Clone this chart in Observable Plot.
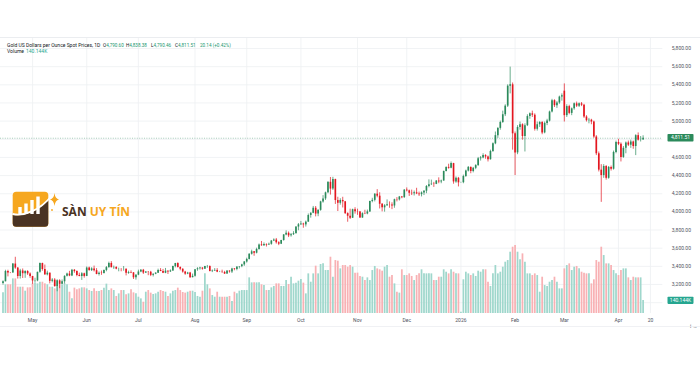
<!DOCTYPE html>
<html>
<head>
<meta charset="utf-8">
<script src="https://cdn.jsdelivr.net/npm/d3@7"></script>
<script src="https://cdn.jsdelivr.net/npm/@observablehq/plot@0.6"></script>
<style>
  html, body { margin: 0; padding: 0; background: #ffffff; }
  #chart { position: relative; width: 700px; height: 365px; overflow: hidden; background: #fff; }
  #chart > svg { position: absolute; left: 0; top: 0; }
</style>
</head>
<body>
<div id="chart"></div>
<script>
// ---------------- DATA ----------------
const startDate = "2025-04-15";
const holidays = ["2025-12-25"];

const tickDates = ["2025-05-01","2025-06-02","2025-07-01","2025-08-01","2025-09-01","2025-10-01",
  "2025-11-03","2025-12-01","2026-01-01","2026-02-02","2026-03-02","2026-04-01","2026-04-20"];
const tickLabels = ["May","Jun","Jul","Aug","Sep","Oct","Nov","Dec","2026","Feb","Mar","Apr","20"];

const priceTicks = [3000,3200,3400,3600,3800,4000,4200,4400,4600,4800,5000,5200,5400,5600,5800];

const closes = [
 3230,3343,3327,3326,3425,3381,3288,3349,3319,3343,
 3317,3288,3239,3240,3334,3431,3365,3306,3325,3235,
 3249,3177,3240,3202,3230,3290,3315,3294,3357,3342,
 3300,3288,3318,3289,3381,3353,3372,3352,3310,3325,
 3322,3355,3386,3432,3385,3388,3369,3369,3368,3368,
 3323,3332,3328,3274,3303,3338,3357,3326,3337,3335,
 3301,3313,3325,3355,3343,3324,3347,3339,3350,3397,
 3431,3387,3368,3337,3314,3326,3275,3290,3363,3373,
 3381,3369,3397,3398,3342,3348,3355,3336,3336,3332,
 3315,3348,3339,3371,3365,3393,3397,3416,3448,3476,
 3533,3560,3545,3586,3636,3627,3640,3634,3643,3679,
 3690,3660,3644,3685,3746,3764,3736,3749,3760,3833,
 3858,3866,3857,3887,3960,3985,4040,3976,4017,4110,
 4143,4210,4326,4251,4356,4125,4095,4126,4111,3981,
 3952,3930,4024,4002,4000,3932,3980,3977,4000,4115,
 4127,4195,4173,4084,4045,4067,4078,4077,4065,4134,
 4132,4164,4156,4240,4232,4205,4200,4210,4198,4190,
 4209,4228,4280,4300,4305,4303,4340,4330,4340,4445,
 4490,4480,4532,4330,4370,4320,4322,4390,4450,4490,
 4445,4480,4510,4585,4595,4620,4605,4575,4665,4750,
 4840,4920,4985,5070,5165,5385,5400,4860,4650,4930,
 4960,4830,4950,5050,5080,5065,4910,4960,4985,4870,
 4975,5000,5100,5225,5170,5200,5265,5280,5060,5160,
 5085,5135,5190,5165,5190,5175,5045,5005,5010,4990,
 4825,4640,4460,4400,4500,4370,4490,4470,4655,4765,
 4745,4600,4700,4760,4735,4770,4720,4840,4790,4791.37,
 4811.51];

const opens = [
 3210,3230,3343,3327,3326,3425,3381,3288,3349,3319,
 3343,3317,3288,3239,3240,3334,3431,3365,3306,3325,
 3235,3249,3177,3240,3202,3230,3290,3315,3294,3357,
 3342,3300,3288,3318,3289,3381,3353,3372,3352,3310,
 3325,3322,3355,3386,3432,3385,3388,3369,3369,3368,
 3368,3323,3332,3328,3274,3303,3338,3357,3326,3337,
 3335,3301,3313,3325,3355,3343,3324,3347,3339,3350,
 3397,3431,3387,3368,3337,3314,3326,3275,3290,3363,
 3373,3381,3369,3397,3398,3342,3348,3355,3336,3336,
 3332,3315,3348,3339,3371,3365,3393,3397,3416,3448,
 3476,3533,3560,3545,3586,3636,3627,3640,3634,3643,
 3679,3690,3660,3644,3685,3746,3764,3736,3749,3760,
 3833,3858,3866,3857,3887,3960,3985,4040,3976,4017,
 4110,4143,4210,4326,4251,4356,4125,4095,4126,4111,
 3981,3952,3930,4024,4002,4000,3932,3980,3977,4000,
 4115,4127,4195,4173,4084,4045,4067,4078,4077,4065,
 4134,4132,4164,4156,4240,4232,4205,4200,4210,4198,
 4190,4209,4228,4280,4300,4305,4303,4340,4330,4340,
 4445,4490,4480,4532,4330,4370,4320,4322,4390,4450,
 4490,4445,4480,4510,4585,4595,4620,4605,4575,4665,
 4750,4840,4920,4985,5070,5165,5385,5400,4860,4650,
 4930,4960,4830,4950,5050,5080,5065,4910,4960,4985,
 4870,4975,5000,5100,5225,5170,5200,5265,5330,5060,
 5160,5085,5135,5190,5165,5190,5175,5045,5005,5010,
 4990,4825,4640,4460,4400,4500,4370,4490,4470,4655,
 4765,4745,4600,4700,4760,4735,4770,4720,4840,4790,
 4790.60];

const highs = [
 3240,3357,3357,3330,3430,3500,3386,3367,3371,3352,
 3352,3328,3290,3269,3336,3437,3435,3414,3347,3326,
 3265,3265,3252,3252,3250,3296,3325,3345,3366,3365,
 3350,3325,3330,3325,3393,3392,3385,3403,3375,3338,
 3349,3360,3398,3446,3452,3403,3396,3380,3375,3398,
 3372,3347,3350,3331,3309,3358,3365,3366,3343,3343,
 3345,3317,3330,3369,3375,3366,3377,3352,3361,3402,
 3433,3439,3394,3373,3345,3334,3334,3315,3363,3385,
 3390,3385,3400,3410,3405,3360,3375,3375,3345,3358,
 3345,3350,3351,3379,3376,3393,3398,3423,3453,3490,
 3540,3578,3563,3600,3646,3674,3658,3648,3656,3685,
 3703,3707,3671,3687,3750,3791,3779,3762,3782,3835,
 3872,3895,3875,3899,3977,3990,4060,4059,4022,4117,
 4179,4218,4330,4379,4381,4360,4161,4145,4161,4115,
 3990,4030,4030,4046,4030,4005,3990,4018,4020,4118,
 4150,4200,4245,4211,4092,4080,4132,4110,4100,4140,
 4157,4170,4170,4245,4264,4240,4240,4230,4260,4218,
 4220,4235,4290,4353,4350,4325,4345,4375,4350,4450,
 4497,4525,4550,4535,4385,4380,4326,4405,4460,4500,
 4495,4490,4520,4600,4610,4640,4630,4615,4680,4760,
 4880,4930,5000,5110,5180,5400,5595,5420,4880,4950,
 4990,4970,4970,5070,5090,5110,5080,4990,4995,4995,
 4990,5020,5110,5240,5235,5215,5275,5300,5410,5180,
 5175,5145,5200,5210,5200,5205,5185,5060,5030,5020,
 5000,4840,4660,4520,4520,4510,4500,4505,4670,4780,
 4800,4760,4720,4770,4780,4790,4780,4850,4870,4830,
 4838.38];

const lows = [
 3193,3229,3284,3320,3325,3367,3260,3260,3266,3268,
 3300,3268,3202,3222,3230,3324,3346,3306,3295,3207,
 3218,3171,3120,3154,3200,3205,3283,3286,3287,3324,
 3285,3285,3245,3270,3287,3345,3343,3338,3307,3293,
 3301,3315,3340,3377,3383,3366,3362,3340,3340,3347,
 3295,3312,3320,3255,3248,3297,3330,3311,3322,3297,
 3287,3283,3308,3322,3341,3320,3319,3310,3332,3345,
 3383,3381,3351,3325,3301,3308,3268,3273,3281,3346,
 3358,3358,3368,3378,3341,3331,3346,3330,3331,3322,
 3311,3311,3325,3321,3351,3351,3371,3385,3400,3436,
 3470,3524,3511,3537,3578,3621,3620,3613,3630,3633,
 3673,3645,3628,3640,3677,3737,3717,3722,3740,3758,
 3792,3850,3820,3833,3885,3931,3980,3945,3947,4007,
 4096,4126,4200,4185,4236,4082,4004,4074,4043,3971,
 3886,3916,3928,3975,3962,3928,3930,3970,3968,3995,
 4100,4110,4155,4032,4000,3997,4060,4040,4025,4040,
 4110,4120,4145,4150,4220,4170,4180,4175,4190,4170,
 4165,4180,4200,4265,4290,4270,4300,4310,4310,4338,
 4440,4470,4475,4305,4315,4275,4316,4310,4380,4440,
 4420,4430,4465,4500,4560,4585,4580,4550,4570,4655,
 4740,4810,4900,4975,5050,5150,5300,4680,4400,4630,
 4900,4790,4660,4940,5020,5040,4890,4890,4930,4850,
 4860,4950,4990,5090,5150,5140,5185,5220,4990,5040,
 5070,5060,5120,5150,5150,5160,5030,4990,4970,4960,
 4810,4620,4440,4105,4370,4350,4360,4450,4460,4640,
 4730,4550,4590,4640,4720,4700,4690,4620,4780,4770,
 4790.46];

// volume, thousands
const volumes = [
 223,310,310,310,374,374,284,284,284,241,
 277,277,320,331,320,338,338,320,310,284,
 284,266,292,310,310,320,310,230,158,274,
 256,266,277,277,266,248,238,266,238,238,
 248,274,317,248,266,248,184,212,248,248,
 202,212,256,223,212,176,158,122,230,248,
 220,205,212,230,248,238,230,184,212,241,
 248,274,248,227,220,230,241,241,227,184,
 176,241,428,310,266,194,176,230,176,176,
 176,176,184,130,230,212,241,248,248,248,
 385,331,331,331,331,310,302,248,248,277,
 292,320,320,292,292,356,313,392,320,328,
 349,367,328,212,428,338,428,511,428,529,
 536,464,464,608,392,572,565,482,518,518,
 500,518,500,436,436,400,392,356,385,356,
 464,508,482,472,457,500,518,392,410,320,
 230,220,472,410,410,428,400,356,410,428,
 472,428,428,428,428,356,356,392,392,472,
 446,428,472,446,428,428,14,364,446,428,
 410,428,400,457,446,472,472,338,292,428,
 518,428,446,500,554,572,662,716,734,662,
 580,644,554,428,428,410,428,410,230,392,
 302,292,338,356,392,338,266,266,482,518,
 536,464,500,508,482,446,436,428,428,320,
 364,572,554,716,626,536,536,518,464,428,
 410,464,482,482,385,356,392,385,385,385,
 140.144];

// ---------------- trading-day calendar ----------------
function isoDay(d) { return d.toISOString().slice(0, 10); }
const calendar = new Map();
{
  const [y, m, dd] = startDate.split("-").map(Number);
  let d = new Date(Date.UTC(y, m - 1, dd));
  let idx = 0;
  const last = tickDates[tickDates.length - 1];
  while (isoDay(d) <= last) {
    const wd = d.getUTCDay();
    const s = isoDay(d);
    if (wd !== 0 && wd !== 6 && !holidays.includes(s)) calendar.set(s, idx++);
    d = new Date(d.getTime() + 86400000);
  }
}
const tickIdx = tickDates.map(s => calendar.get(s));
const labelOf = new Map(tickIdx.map((t, k) => [t, tickLabels[k]]));

const bars = closes.map((c, i) => ({
  i, open: opens[i], high: highs[i], low: lows[i], close: c, volume: volumes[i], up: c >= opens[i]
}));
const lastBar = bars[bars.length - 1];
const prevClose = closes[closes.length - 2];

// ---------------- styling ----------------
const UP = "#2b8a5b", DOWN = "#e3161f";
const VUP = "#9fd7cc", VDOWN = "#f8b1b4";
const FONT = "Roboto, 'Liberation Sans', Arial, sans-serif";
const X = {domain: [-1, 268], range: [0.04, 662.3]};
const PRICE_Y = {domain: [2880.5, 5910.2], range: [313, 38]};
const VOL_Y = {domain: [0, 2970], range: [313, 38]};
const common = {
  width: 700, height: 330, marginLeft: 0, marginRight: 37.7, marginTop: 38, marginBottom: 17,
  style: {background: "transparent", fontFamily: FONT, color: "#50535e", overflow: "visible"}
};

// price-scale labels hidden behind the last-value badges (as the price scale does)
const pyScale = Plot.scale({y: PRICE_Y});
const vyScale = Plot.scale({y: VOL_Y});
const badgeYs = [pyScale.apply(lastBar.close), vyScale.apply(lastBar.volume)];
const labelTicks = priceTicks.filter(t => badgeYs.every(b => Math.abs(pyScale.apply(t) - b) > 7.5));

const root = document.getElementById("chart");

// grid layer
const gridPlot = Plot.plot({
  ...common,
  x: {...X, axis: null}, y: {...PRICE_Y, axis: null},
  marks: [
    Plot.gridY(priceTicks, {stroke: "#eef0f3", strokeOpacity: 1, strokeWidth: 0.8}),
    Plot.gridX(tickIdx, {stroke: "#eef0f3", strokeOpacity: 1, strokeWidth: 0.8})
  ]
});
root.appendChild(gridPlot);

// volume layer
const volPlot = Plot.plot({
  ...common,
  x: {...X, axis: null}, y: {...VOL_Y, axis: null},
  marks: [
    Plot.ruleX(bars, {x: "i", y1: 0, y2: "volume", stroke: d => d.up ? VUP : VDOWN, strokeWidth: 1.75})
  ]
});
root.appendChild(volPlot);

// candle layer + axes
const candlePlot = Plot.plot({
  ...common,
  x: X, y: PRICE_Y,
  marks: [
    Plot.ruleY([lastBar.close], {stroke: UP, strokeOpacity: 0.6, strokeWidth: 0.7, strokeDasharray: "1,1.4"}),
    Plot.ruleX(bars, {x: "i", y1: "low", y2: "high", stroke: d => d.up ? UP : DOWN, strokeWidth: 0.7}),
    Plot.ruleX(bars, {x: "i", y1: "open", y2: "close", stroke: d => d.up ? UP : DOWN, strokeWidth: 1.65}),
    Plot.axisY(labelTicks, {anchor: "right", tickSize: 0, tickPadding: 9, fontSize: 5,
      tickFormat: d3.format(",.2f")}),
    Plot.axisX(tickIdx, {anchor: "bottom", tickSize: 0, tickPadding: 4.5, fontSize: 5,
      tickFormat: d => labelOf.get(d)})
  ]
});
root.appendChild(candlePlot);

// ---------------- overlay: labels, legend, watermark ----------------
const ov = d3.select(root).append("svg")
  .attr("width", 700).attr("height", 365)
  .style("font-family", FONT);

// borders
ov.append("line").attr("x1", 0).attr("x2", 700).attr("y1", 37.5).attr("y2", 37.5)
  .attr("stroke", "#e6e8ec").attr("stroke-width", 0.8);
ov.append("line").attr("x1", 0).attr("x2", 700).attr("y1", 326.5).attr("y2", 326.5)
  .attr("stroke", "#eceef1").attr("stroke-width", 0.8);

// last price label
const fmt2 = d3.format(",.2f");
const yPrice = candlePlot.scale("y").apply(lastBar.close);
ov.append("rect").attr("x", 667.5).attr("y", yPrice - 3.8).attr("width", 26).attr("height", 7.6)
  .attr("rx", 0.8).attr("fill", UP);
ov.append("text").attr("x", 680.5).attr("y", yPrice).attr("dy", "0.35em")
  .attr("text-anchor", "middle").attr("fill", "#fff").attr("font-size", 5).text(fmt2(lastBar.close));

// last volume label
const yVol = volPlot.scale("y").apply(lastBar.volume);
ov.append("rect").attr("x", 667.5).attr("y", yVol - 3.3).attr("width", 26).attr("height", 7.2)
  .attr("rx", 0.8).attr("fill", "#26a690");
ov.append("text").attr("x", 680.5).attr("y", yVol + 0.3).attr("dy", "0.35em")
  .attr("text-anchor", "middle").attr("fill", "#fff").attr("font-size", 5)
  .text(lastBar.volume.toFixed(3) + "K");

// legend
const LG = "#22976f";
const change = lastBar.close - prevClose;
const pct = change / prevClose * 100;
const l1 = ov.append("text").attr("x", 7).attr("y", 45).attr("dy", "0.35em").attr("font-size", 5).attr("fill", "#131722");
l1.append("tspan").text("Gold US Dollars per Ounce Spot Prices, 1D");
const ohlc = [["O", lastBar.open, 103], ["H", lastBar.high, 126], ["L", lastBar.low, 151], ["C", lastBar.close, 175]];
for (const [k, v, x] of ohlc) {
  const t = ov.append("text").attr("x", x).attr("y", 45).attr("dy", "0.35em").attr("font-size", 4.6);
  t.append("tspan").attr("fill", "#131722").text(k);
  t.append("tspan").attr("fill", LG).text(fmt2(v));
}
ov.append("text").attr("x", 200).attr("y", 45).attr("dy", "0.35em").attr("font-size", 4.6).attr("fill", LG)
  .text(`${change.toFixed(2)} (${pct >= 0 ? "+" : ""}${pct.toFixed(2)}%)`);
ov.append("text").attr("x", 7).attr("y", 51.5).attr("dy", "0.35em").attr("font-size", 5).attr("fill", "#131722").text("Volume");
ov.append("text").attr("x", 26).attr("y", 51.5).attr("dy", "0.35em").attr("font-size", 5).attr("fill", "#26a690")
  .text(lastBar.volume.toFixed(3) + "K");

// watermark logo
const wm = ov.append("g");
const ORANGE = "#f6a71f", BROWN = "#4a3323";
wm.append("rect").attr("x", 12.7).attr("y", 191.7).attr("width", 35.6).attr("height", 35).attr("rx", 3.5).attr("fill", ORANGE);
wm.append("path").attr("d", "M12.7,215 C25,217 39,211 48.3,200 L48.3,223.2 Q48.3,226.7 44.8,226.7 L16.2,226.7 Q12.7,226.7 12.7,223.2 Z").attr("fill", BROWN);
[[18.3, 207], [24.3, 203.5], [30.3, 200], [36.3, 196.5]].forEach(([x, top]) => {
  wm.append("rect").attr("x", x).attr("y", top).attr("width", 3.4).attr("height", 214 - top).attr("fill", "#fff");
});
wm.append("path").attr("d", "M12.7,214 C25,216.5 40,210 51.5,196").attr("fill", "none").attr("stroke", "#fff").attr("stroke-width", 1.8);
wm.append("path").attr("d", "M54.5,193 Q55.2,198.8 59,199.5 Q55.2,200.2 54.5,206 Q53.8,200.2 50,199.5 Q53.8,198.8 54.5,193 Z").attr("fill", ORANGE);
wm.append("circle").attr("cx", 52).attr("cy", 210).attr("r", 0.9).attr("fill", ORANGE);
const wt = wm.append("text").attr("x", 62).attr("y", 216).attr("font-size", 12).attr("font-weight", 700)
  .attr("font-family", "'Open Sans', Roboto, sans-serif");
wt.append("tspan").attr("fill", BROWN).text("SÀN ");
wt.append("tspan").attr("fill", ORANGE).text("UY TÍN");
</script>
</body>
</html>
